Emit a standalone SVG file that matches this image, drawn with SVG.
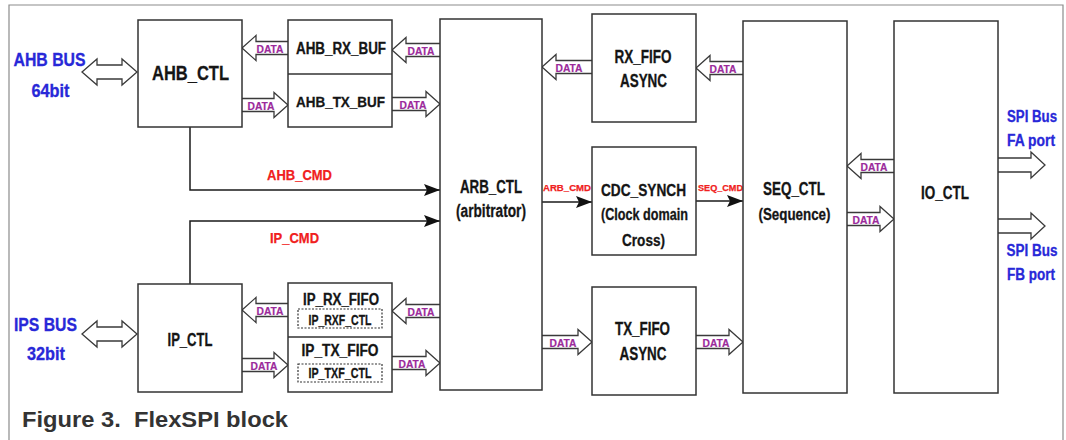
<svg xmlns="http://www.w3.org/2000/svg" width="1066" height="440" viewBox="0 0 1066 440">
<defs>
<style>
.bg{fill:#fff}
.frame{fill:none;stroke:#8c8c8c;stroke-width:1.2}
.box{fill:#fff;stroke:#333;stroke-width:1.5}
.dash{fill:none;stroke:#333;stroke-width:1.2;stroke-dasharray:2 1.5}
.t{font-family:"Liberation Sans",Arial,sans-serif;font-weight:bold;fill:#151515;stroke:#151515;stroke-width:0.3;text-anchor:middle}
.blue{fill:#2828d8;stroke:#2828d8}
.red{fill:#f02020;stroke:#f02020}
.data{font-size:11px;fill:#9b2a9b;stroke:#9b2a9b;stroke-width:0.2}
.ha{fill:#fff;stroke:#3a3a3a;stroke-width:1.3;stroke-linejoin:miter}
.cmd{fill:none;stroke:#1a1a1a;stroke-width:1.5;marker-end:url(#ah)}
.cap{font-family:"Liberation Sans",Arial,sans-serif;font-weight:bold;fill:#333;font-size:22px}
</style>
<marker id="ah" markerUnits="userSpaceOnUse" markerWidth="16" markerHeight="12" refX="16" refY="6" orient="auto">
<path d="M0,0 L16,6 L0,12 L3,6 Z" fill="#111"/>
</marker>
</defs>
<rect class="bg" x="0" y="0" width="1066" height="440"/>
<path class="frame" d="M9,440 V5 H1063 V440"/>

<g id="connectors">
<!-- command lines -->
<path class="cmd" d="M190,127 V190 H440"/>
<path class="cmd" d="M190,284 V221 H440"/>
<path class="cmd" d="M542,202 H592"/>
<path class="cmd" d="M696,201 H743"/>
<!-- bus arrows -->
<path class="ha" d="M82,72 L97,59 V65 H122 V59 L137,72 L122,85 V79 H97 V85 Z"/>
<path class="ha" d="M82,334 L97,321 V327 H122 V321 L137,334 L122,347 V341 H97 V347 Z"/>
<!-- data arrows -->
<path class="ha" d="M288,41.5 H256 V35.5 L242,48 L256,60.5 V54.5 H288"/>
<path class="ha" d="M242,98.5 H274 V92.5 L288,105 L274,117.5 V111.5 H242"/>
<path class="ha" d="M440,43.5 H406 V37.5 L392,50 L406,62.5 V56.5 H440"/>
<path class="ha" d="M392,97.5 H426 V91.5 L440,104 L426,116.5 V110.5 H392"/>
<path class="ha" d="M288,303.5 H256 V297.5 L242,310 L256,322.5 V316.5 H288"/>
<path class="ha" d="M242,358.5 H274 V352.5 L288,365 L274,377.5 V371.5 H242"/>
<path class="ha" d="M440,304.5 H406 V298.5 L392,311 L406,323.5 V317.5 H440"/>
<path class="ha" d="M392,356.5 H426 V350.5 L440,363 L426,375.5 V369.5 H392"/>
<path class="ha" d="M592,60.5 H556 V54.5 L542,67 L556,79.5 V73.5 H592"/>
<path class="ha" d="M743,61.5 H710 V55.5 L696,68 L710,80.5 V74.5 H743"/>
<path class="ha" d="M542,335.5 H578 V329.5 L592,342 L578,354.5 V348.5 H542"/>
<path class="ha" d="M696,335.5 H729 V329.5 L743,342 L729,354.5 V348.5 H696"/>
<path class="ha" d="M894,159.5 H861 V153.5 L847,166 L861,178.5 V172.5 H894"/>
<path class="ha" d="M847,212.5 H880 V206.5 L894,219 L880,231.5 V225.5 H847"/>
<path class="ha" d="M998,158 H1031 V152 L1045,165 L1031,178 V172 H998"/>
<path class="ha" d="M998,219 H1031 V213 L1045,226 L1031,239 V233 H998"/>
<!-- labels -->
<g class="t data">
<text x="270" y="53" textLength="27" lengthAdjust="spacingAndGlyphs">DATA</text>
<text x="261" y="110" textLength="27" lengthAdjust="spacingAndGlyphs">DATA</text>
<text x="421" y="55" textLength="27" lengthAdjust="spacingAndGlyphs">DATA</text>
<text x="413" y="109" textLength="27" lengthAdjust="spacingAndGlyphs">DATA</text>
<text x="270" y="315" textLength="27" lengthAdjust="spacingAndGlyphs">DATA</text>
<text x="264" y="370" textLength="27" lengthAdjust="spacingAndGlyphs">DATA</text>
<text x="421" y="316" textLength="27" lengthAdjust="spacingAndGlyphs">DATA</text>
<text x="412" y="368" textLength="27" lengthAdjust="spacingAndGlyphs">DATA</text>
<text x="569" y="72" textLength="27" lengthAdjust="spacingAndGlyphs">DATA</text>
<text x="723" y="73" textLength="27" lengthAdjust="spacingAndGlyphs">DATA</text>
<text x="563" y="347" textLength="27" lengthAdjust="spacingAndGlyphs">DATA</text>
<text x="716" y="347" textLength="27" lengthAdjust="spacingAndGlyphs">DATA</text>
<text x="874" y="171" textLength="27" lengthAdjust="spacingAndGlyphs">DATA</text>
<text x="866" y="224" textLength="27" lengthAdjust="spacingAndGlyphs">DATA</text>
</g>
<g class="t red" style="stroke-width:0.25">
<text x="299.5" y="180" font-size="15" textLength="65" lengthAdjust="spacingAndGlyphs">AHB_CMD</text>
<text x="294.5" y="243" font-size="15" textLength="49" lengthAdjust="spacingAndGlyphs">IP_CMD</text>
<text x="567" y="191" font-size="9.5" textLength="48" lengthAdjust="spacingAndGlyphs">ARB_CMD</text>
<text x="720.5" y="191" font-size="9" textLength="45" lengthAdjust="spacingAndGlyphs">SEQ_CMD</text>
</g>
</g>

<g id="ahb_bus" class="t blue" font-size="18">
<text x="49.5" y="66" textLength="72" lengthAdjust="spacingAndGlyphs">AHB BUS</text>
<text x="50.5" y="97" textLength="38" lengthAdjust="spacingAndGlyphs">64bit</text>
</g>
<g id="ips_bus" class="t blue" font-size="18">
<text x="45.5" y="331" textLength="63" lengthAdjust="spacingAndGlyphs">IPS BUS</text>
<text x="46" y="360" textLength="38" lengthAdjust="spacingAndGlyphs">32bit</text>
</g>

<g id="ahb_ctl">
<rect class="box" x="138" y="20" width="104" height="107"/>
<text class="t" x="190.5" y="80" font-size="20" textLength="77" lengthAdjust="spacingAndGlyphs">AHB_CTL</text>
</g>
<g id="ahb_buf">
<rect class="box" x="288" y="20" width="104" height="107"/>
<line class="box" x1="288" y1="74" x2="392" y2="74"/>
<text class="t" x="341" y="54" font-size="16" textLength="90" lengthAdjust="spacingAndGlyphs">AHB_RX_BUF</text>
<text class="t" x="340.5" y="106.5" font-size="15.5" textLength="89" lengthAdjust="spacingAndGlyphs">AHB_TX_BUF</text>
</g>
<g id="ip_ctl">
<rect class="box" x="138" y="284" width="104" height="108"/>
<text class="t" x="190" y="346" font-size="18" textLength="45" lengthAdjust="spacingAndGlyphs">IP_CTL</text>
</g>
<g id="ip_fifo">
<rect class="box" x="288" y="283" width="104" height="109"/>
<line class="box" x1="288" y1="337" x2="392" y2="337"/>
<rect class="dash" x="298" y="309" width="84" height="19"/>
<rect class="dash" x="298" y="364" width="84" height="18"/>
<text class="t" x="341" y="304.5" font-size="16" textLength="76" lengthAdjust="spacingAndGlyphs">IP_RX_FIFO</text>
<text class="t" x="340" y="325" font-size="14" textLength="63" lengthAdjust="spacingAndGlyphs">IP_RXF_CTL</text>
<text class="t" x="340" y="356" font-size="16" textLength="77" lengthAdjust="spacingAndGlyphs">IP_TX_FIFO</text>
<text class="t" x="340" y="377.5" font-size="14" textLength="63" lengthAdjust="spacingAndGlyphs">IP_TXF_CTL</text>
</g>
<g id="arb_ctl">
<rect class="box" x="440" y="19" width="102" height="371"/>
<text class="t" x="491" y="193" font-size="18" textLength="62" lengthAdjust="spacingAndGlyphs">ARB_CTL</text>
<text class="t" x="491" y="217" font-size="18" textLength="70" lengthAdjust="spacingAndGlyphs">(arbitrator)</text>
</g>
<g id="rx_fifo">
<rect class="box" x="592" y="14" width="104" height="108"/>
<text class="t" x="643" y="63" font-size="18" textLength="57" lengthAdjust="spacingAndGlyphs">RX_FIFO</text>
<text class="t" x="643.5" y="87" font-size="18" textLength="47" lengthAdjust="spacingAndGlyphs">ASYNC</text>
</g>
<g id="cdc_synch">
<rect class="box" x="592" y="147" width="104" height="108"/>
<text class="t" x="643.5" y="196" font-size="16.5" textLength="85" lengthAdjust="spacingAndGlyphs">CDC_SYNCH</text>
<text class="t" x="644.5" y="220" font-size="16.5" textLength="87" lengthAdjust="spacingAndGlyphs">(Clock domain</text>
<text class="t" x="643.5" y="246" font-size="16.5" textLength="43" lengthAdjust="spacingAndGlyphs">Cross)</text>
</g>
<g id="tx_fifo">
<rect class="box" x="592" y="287" width="104" height="108"/>
<text class="t" x="642.5" y="335" font-size="18" textLength="55" lengthAdjust="spacingAndGlyphs">TX_FIFO</text>
<text class="t" x="643" y="360" font-size="18" textLength="47" lengthAdjust="spacingAndGlyphs">ASYNC</text>
</g>
<g id="seq_ctl">
<rect class="box" x="743" y="21" width="104" height="372"/>
<text class="t" x="794" y="195" font-size="18" textLength="62" lengthAdjust="spacingAndGlyphs">SEQ_CTL</text>
<text class="t" x="794.5" y="220" font-size="17" textLength="72" lengthAdjust="spacingAndGlyphs">(Sequence)</text>
</g>
<g id="io_ctl">
<rect class="box" x="894" y="21" width="104" height="372"/>
<text class="t" x="945" y="199" font-size="18" textLength="48" lengthAdjust="spacingAndGlyphs">IO_CTL</text>
</g>
<g id="spi_fa" class="t blue" font-size="16">
<text x="1032" y="122" textLength="50" lengthAdjust="spacingAndGlyphs">SPI Bus</text>
<text x="1031" y="146" textLength="48" lengthAdjust="spacingAndGlyphs">FA port</text>
</g>
<g id="spi_fb" class="t blue" font-size="16">
<text x="1032" y="256" textLength="51" lengthAdjust="spacingAndGlyphs">SPI Bus</text>
<text x="1031" y="280" textLength="48" lengthAdjust="spacingAndGlyphs">FB port</text>
</g>

<text class="cap" x="22" y="427" xml:space="preserve" textLength="266" lengthAdjust="spacingAndGlyphs">Figure 3.  FlexSPI block</text>
</svg>
